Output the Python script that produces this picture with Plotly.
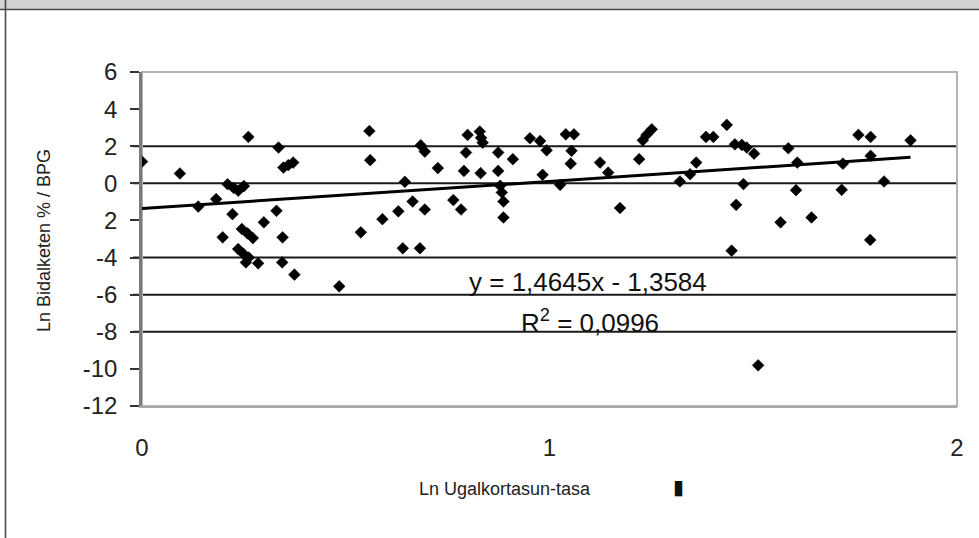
import plotly.graph_objects as go

# ---- data ----
ln_fertility = [
    0.000, 0.093, 0.138, 0.182, 0.198, 0.210, 0.222, 0.225, 0.236, 0.250,
    0.236, 0.245, 0.249, 0.255, 0.259, 0.261, 0.272, 0.262, 0.285, 0.299,
    0.330, 0.335, 0.345, 0.344, 0.347, 0.359, 0.371, 0.374, 0.484, 0.537,
    0.558, 0.560, 0.590, 0.629, 0.645, 0.640, 0.664, 0.682, 0.684, 0.694,
    0.694, 0.726, 0.764, 0.783, 0.790, 0.795, 0.799, 0.829, 0.832, 0.836,
    0.831, 0.874, 0.874, 0.879, 0.883, 0.887, 0.887, 0.910, 0.952, 0.977,
    0.983, 0.993, 1.026, 1.040, 1.060, 1.054, 1.052, 1.124, 1.144, 1.173,
    1.220, 1.229, 1.238, 1.251, 1.320, 1.345, 1.360, 1.384, 1.402, 1.435,
    1.455, 1.472, 1.484, 1.502, 1.476, 1.458, 1.447, 1.512, 1.567, 1.586,
    1.608, 1.605, 1.643, 1.717, 1.720, 1.758, 1.788, 1.788, 1.787, 1.821,
    1.886,
]
ln_shipments = [
    1.17, 0.53, -1.25, -0.85, -2.91, -0.05, -1.66, -0.25, -0.40, -0.15,
    -3.54, -2.46, -3.80, -4.26, -2.70, 2.50, -2.95, -4.00, -4.31, -2.10,
    -1.48, 1.93, -2.91, -4.26, 0.85, 0.98, 1.12, -4.92, -5.55, -2.64,
    2.82, 1.25, -1.93, -1.51, 0.08, -3.50, -0.98, -3.50, 2.05, 1.71,
    -1.41, 0.82, -0.90, -1.41, 0.67, 1.66, 2.61, 2.79, 2.45, 2.19,
    0.55, 1.66, 0.67, -0.13, -0.49, -0.98, -1.84, 1.30, 2.43, 2.28,
    0.46, 1.78, -0.08, 2.64, 2.64, 1.75, 1.06, 1.12, 0.58, -1.33,
    1.30, 2.32, 2.61, 2.91, 0.10, 0.49, 1.12, 2.50, 2.50, 3.15,
    2.10, 2.07, 1.93, 1.60, -0.04, -1.16, -3.63, -9.81, -2.10, 1.89,
    1.12, -0.37, -1.84, -0.35, 1.06, 2.61, 2.50, 1.48, -3.05, 0.10,
    2.32,
]
trend_slope = 1.4645
trend_intercept = -1.3584
equation_text = "y = 1,4645x - 1,3584"
r2_text = "R<sup>2</sup> = 0,0996"

y_tick_vals = [6, 4, 2, 0, -2, -4, -6, -8, -10, -12]
y_tick_text = ["6", "4", "2", "0", "2", "-4", "-6", "-8", "-10", "-12"]
x_tick_vals = [0, 1, 2]
x_tick_text = ["0", "1", "2"]
gridline_values = [2, 0, -4, -6, -8]

x_title = "Ln Ugalkortasun-tasa"
y_title = "Ln Bidalketen % / BPG"

# ---- layout geometry ----
W, H = 979, 538
L, R, T, B = 142, 957, 72, 406


def px_x(p):
    return (p - L) / (R - L)


def px_y(p):
    return (B - p) / (B - T)


FONT = "Liberation Sans, Arial, sans-serif"

fig = go.Figure()

# trend line from the fitted coefficients
tx = [0, max(ln_fertility)]
ty = [trend_slope * v + trend_intercept for v in tx]
fig.add_trace(go.Scatter(
    x=tx, y=ty, mode="lines",
    line=dict(color="black", width=3),
    hoverinfo="skip", showlegend=False,
))

fig.add_trace(go.Scatter(
    x=ln_fertility, y=ln_shipments, mode="markers",
    marker=dict(symbol="diamond", size=9, color="black",
                line=dict(width=0.6, color="black")),
    showlegend=False,
))

shapes = []
# horizontal lines
for g in gridline_values:
    shapes.append(dict(type="line", xref="paper", yref="y", x0=px_x(133), x1=1,
                       y0=g, y1=g, line=dict(color="#1a1a1a", width=2),
                       layer="below"))
# plot frame (top / right light grey)
shapes.append(dict(type="rect", xref="paper", yref="paper", x0=0, x1=1, y0=0, y1=1,
                   line=dict(color="#b4b4b4", width=2), layer="below"))
# top grey band of the outer frame
shapes.append(dict(type="rect", xref="paper", yref="paper",
                   x0=px_x(-5), x1=px_x(W + 5), y0=px_y(9), y1=px_y(-5),
                   fillcolor="#d3d3d3", line=dict(width=0), layer="below"))
shapes.append(dict(type="line", xref="paper", yref="paper",
                   x0=px_x(0), x1=px_x(W + 5), y0=px_y(9.5), y1=px_y(9.5),
                   line=dict(color="#4a4a4a", width=1.6)))
shapes.append(dict(type="line", xref="paper", yref="paper",
                   x0=px_x(5.5), x1=px_x(5.5), y0=px_y(0), y1=px_y(H + 5),
                   line=dict(color="#4a4a4a", width=1.6)))

annotations = [
    dict(x=1.094, y=-5.3, xref="x", yref="y", text=equation_text, showarrow=False,
         font=dict(family=FONT, size=26, color="#111111")),
    dict(x=1.10, y=-7.45, xref="x", yref="y", text=r2_text, showarrow=False,
         font=dict(family=FONT, size=26, color="#111111")),
    dict(x=px_x(44), y=px_y(241), xref="paper", yref="paper", text=y_title,
         textangle=-90, showarrow=False, xanchor="center", yanchor="middle",
         font=dict(family=FONT, size=18, color="#222222")),
    dict(x=px_x(505), y=px_y(489), xref="paper", yref="paper", text=x_title,
         showarrow=False, xanchor="center", yanchor="middle",
         font=dict(family=FONT, size=18, color="#222222")),
    dict(x=px_x(678), y=px_y(487), xref="paper", yref="paper", text="▮",
         showarrow=False, xanchor="center", yanchor="middle",
         font=dict(family="DejaVu Sans", size=20, color="#111111")),
]

fig.update_layout(
    width=W, height=H,
    margin=dict(l=L, r=W - R, t=T, b=H - B, pad=0),
    paper_bgcolor="white", plot_bgcolor="white",
    shapes=shapes, annotations=annotations,
    font=dict(family=FONT, color="#222222"),
    xaxis=dict(range=[0, 2], tickvals=x_tick_vals, ticktext=x_tick_text,
               showgrid=False, zeroline=False, showline=True,
               linecolor="#a8a8a8", linewidth=2, ticks="",
               ticklabelstandoff=19,
               tickfont=dict(family=FONT, size=24, color="#222222")),
    yaxis=dict(range=[-12, 6], tickvals=y_tick_vals, ticktext=y_tick_text,
               showgrid=False, zeroline=False, showline=True,
               linecolor="#7a7a7a", linewidth=2.5, ticks="outside",
               ticklen=9, tickwidth=2, tickcolor="#333333",
               ticklabelstandoff=8,
               tickfont=dict(family=FONT, size=24, color="#222222")),
)

fig.write_html(
    "out.html",
    config={"displayModeBar": False},
    post_script="document.body.style.margin='0';document.body.style.overflow='hidden';",
)
